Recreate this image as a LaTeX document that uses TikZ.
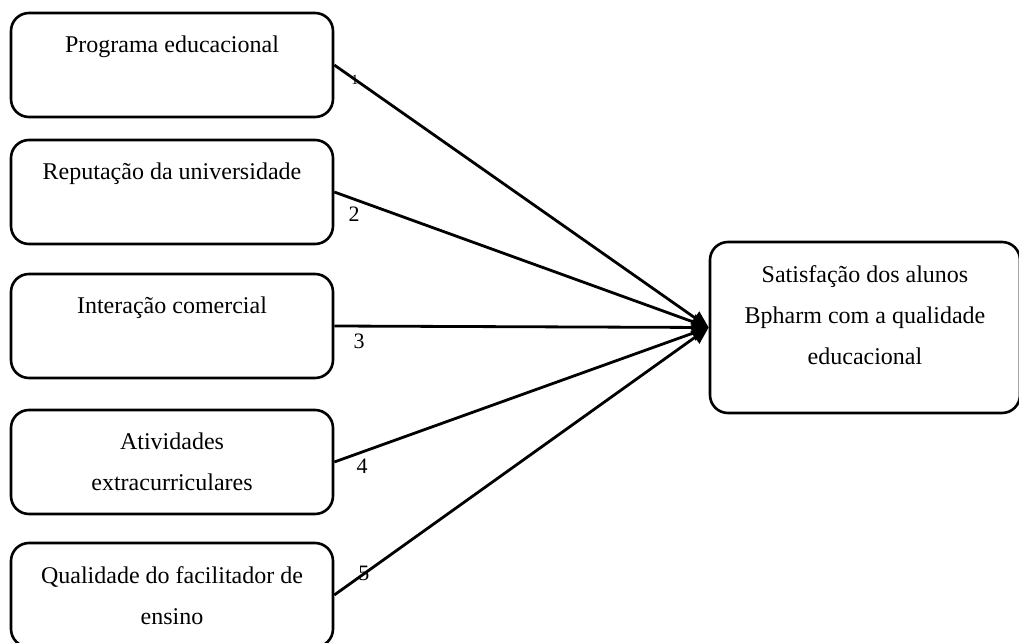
\documentclass[tikz,border=0pt]{standalone}
\usepackage{fontspec}
\setmainfont{Liberation Serif}
\usetikzlibrary{arrows.meta, positioning}

\begin{document}
\begin{tikzpicture}[x=0.5pt,y=-0.5pt,
  caixa/.style={draw,line width=1.3pt,rounded corners=9pt,minimum width=161pt,minimum height=52pt,inner sep=0pt},
  texto/.style={align=center,inner sep=0pt,font=\fontsize{12}{20.5}\selectfont},
  seta/.style={line width=1.4pt,-{Triangle[length=8.5pt,width=7.5pt]}},
  num/.style={font=\fontsize{11}{13}\selectfont,inner sep=3pt}]
  \useasboundingbox (0,0) rectangle (1019,643);
  \clip (0,0) rectangle (1019,643);
  % Fatores
  \node[caixa] (b1) at (172,65) {};
  \node[caixa] (b2) at (172,192) {};
  \node[caixa] (b3) at (172,326) {};
  \node[caixa] (b4) at (172,462) {};
  \node[caixa] (b5) at (172,595) {};
  \node[texto,below=12pt of b1.north] {Programa educacional};
  \node[texto,below=12pt of b2.north] {Reputação da universidade};
  \node[texto,below=12pt of b3.north] {Interação comercial};
  \node[texto,below=12pt of b4.north] {Atividades\\extracurriculares};
  \node[texto,below=12pt of b5.north] {Qualidade do facilitador de\\ensino};
  % Satisfacao
  \node[caixa,minimum width=155pt,minimum height=85.5pt] (alvo) at (865,327.5) {};
  \node[texto,below=12pt of alvo.north] {Satisfação dos alunos\\Bpharm com a qualidade\\educacional};
  % Setas
  \draw[seta] (b1.east) -- (alvo.west)
    node[num,pos=0.055,font=\fontsize{7}{8}\selectfont]{1};
  \draw[seta] (b2.east) -- (alvo.west) node[num,below,pos=0.053]{2};
  \draw[seta] (b3.east) -- (alvo.west) node[num,below,pos=0.066]{3};
  \draw[seta] (b4.east) -- (alvo.west) node[num,below,pos=0.074]{4};
  \draw[seta] (b5.east) -- (alvo.west) node[num,pos=0.079]{5};
\end{tikzpicture}
\end{document}
